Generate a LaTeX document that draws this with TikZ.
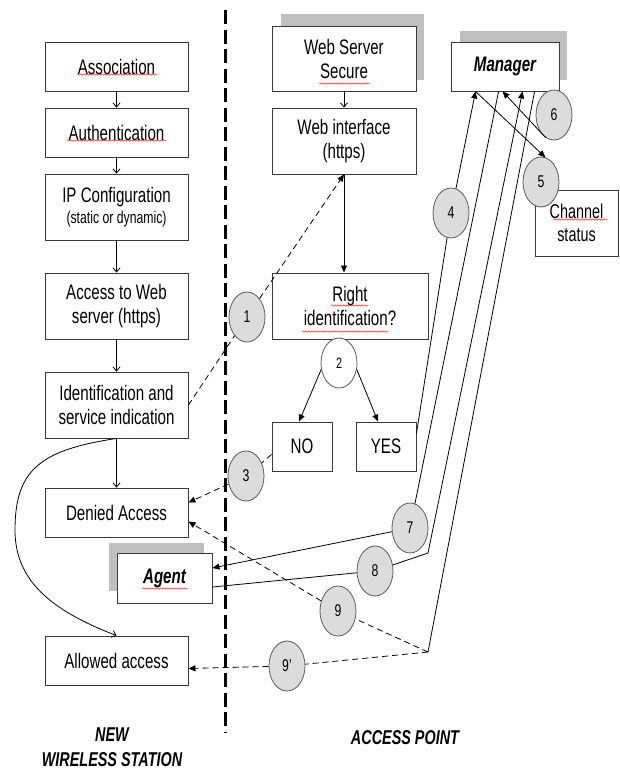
\documentclass[tikz,border=0pt]{standalone}
\usepackage{fontspec}
\setmainfont[FakeStretch=0.72]{Liberation Sans}
\usetikzlibrary{shapes.geometric,arrows.meta,calc,decorations.pathmorphing}
\definecolor{boxc}{HTML}{3A3A3A}
\definecolor{circf}{HTML}{DCDCDC}
\definecolor{circc}{HTML}{5A5A5A}
\definecolor{shadc}{HTML}{BFBFBF}
\begin{document}
\begin{tikzpicture}[x=1pt,y=-1pt,
  box/.style={draw=boxc, line width=0.9pt, fill=white, inner sep=0pt, align=center,
              font=\fontsize{21}{24}\selectfont},
  num/.style={ellipse, draw=circc, line width=0.8pt, fill=circf, minimum width=36pt,
              minimum height=50pt, inner sep=0pt, font=\fontsize{17}{17}\selectfont},
  lab/.style={align=center, inner sep=0pt, font=\fontsize{20}{25}\selectfont\bfseries\itshape},
  arr/.style={line width=0.8pt, -{Triangle[length=7pt,width=6pt]}},
  barb/.style={line width=0.8pt, -{Straight Barb[length=4pt,width=7pt]}},
  plain/.style={line width=0.8pt},
  dsh/.style={dash pattern=on 6pt off 4pt},
  squig/.style={draw=red!85, line width=0.5pt, decorate,
                decoration={snake, segment length=3pt, amplitude=0.7pt}}]
\useasboundingbox (0,0) rectangle (619,771);

% separator
\draw[line width=3pt, dash pattern=on 14pt off 5.5pt] (225,10) -- (225,733);

% shadows
\fill[shadc] (109,543) rectangle (204,591);
\fill[shadc] (281,14) rectangle (424,80);
\fill[shadc] (460,31) rectangle (567,80);

% wireless station boxes
\node[box, minimum width=143pt, minimum height=49pt] (assoc) at (116.5,66.5) {Association};
\node[box, minimum width=143pt, minimum height=49pt] (auth) at (116.5,132.5) {Authentication};
\node[box, minimum width=143pt, minimum height=66pt] (ip) at (116.5,207)
  {IP Configuration\\[-3pt]{\fontsize{17}{19}\selectfont (static or dynamic)}};
\node[box, minimum width=143pt, minimum height=66pt] (access) at (116.5,306) {Access to Web\\server (https)};
\node[box, minimum width=143pt, minimum height=66pt] (ident) at (116.5,405) {Identification and\\service indication};
\node[box, minimum width=143pt, minimum height=49pt] (denied) at (116.5,512.5) {Denied Access};
\node[box, minimum width=95pt, minimum height=50pt, font=\fontsize{21}{24}\selectfont\bfseries\itshape] (agent) at (164.5,578) {Agent};
\node[box, minimum width=143pt, minimum height=49pt] (allowed) at (116.5,660.5) {Allowed access};

% access point boxes
\node[box, minimum width=144pt, minimum height=65pt] (ws) at (344,58.5) {Web Server\\Secure};
\node[box, minimum width=144pt, minimum height=66pt] (webint) at (344,141) {Web interface\\(https)};
\node[box, minimum width=156pt, minimum height=66pt] (rightid) at (350,306) {Right\\identification?};
\node[box, minimum width=60pt, minimum height=49pt] (no) at (302,446.5) {NO};
\node[box, minimum width=60pt, minimum height=49pt] (yes) at (386,446.5) {YES};
\node[box, minimum width=108pt, minimum height=49pt, font=\fontsize{21}{24}\selectfont\bfseries\itshape] (manager) at (505,66.5) {Manager};
\node[box, minimum width=83pt, minimum height=66pt, font=\fontsize{20}{23}\selectfont] (channel) at (576.5,223) {Channel\\status};

% spelling marks
\draw[squig] (77,74.5) -- (157,74.5);
\draw[squig] (67,140.5) -- (166,140.5);
\draw[squig] (319,83.5) -- (370,83.5);
\draw[squig] (331,305.5) -- (368,305.5);
\draw[squig] (302,331.5) -- (388,331.5);
\draw[squig] (553,219.5) -- (607,219.5);
\draw[squig] (142,588.5) -- (188,588.5);

% numbered circles
\node[num] (c1) at (247,317) {1};
\node[num, fill=white, font=\fontsize{15}{15}\selectfont] (c2) at (339,363) {2};
\node[num] (c3) at (246,476) {3};
\node[num] (c4) at (451,213) {4};
\node[num] (c5) at (541,182) {5};
\node[num] (c6) at (554,115) {6};
\node[num] (c7) at (410,528) {7};
\node[num] (c8) at (375,571) {8};
\node[num] (c9) at (338,611) {9};
\node[num] (c9p) at (287,666) {9’};

% anchor points on the manager and bends
\coordinate (m4) at ($(manager.south west)+(25,0)$);
\coordinate (m7) at ($(manager.south west)+(48,0)$);
\coordinate (m6) at ($(manager.south west)+(52,0)$);
\coordinate (m8) at ($(manager.south west)+(72,0)$);
\coordinate (m9) at ($(manager.south west)+(84,0)$);
\coordinate (k8) at (428,553);
\coordinate (k9) at (428,652);

% left flow
\draw[barb] (assoc) -- (auth);
\draw[barb] (auth) -- (ip);
\draw[barb] (ip) -- (access);
\draw[barb] (access) -- (ident);
\draw[barb] (ident) -- (denied);
\draw[barb] (ident.south) .. controls (40,450) and (15,470) .. (15,530)
  .. controls (15,580) and (50,610) .. (allowed.north);

% access point flow
\draw[barb] (ws) -- (webint);
\draw[arr] (webint.south) -- (webint.south |- rightid.north);
\draw[arr] (c2.200) -- ($(no.north)+(-3,0)$);
\draw[arr] (c2.340) -- ($(yes.north)+(-8,0)$);

% messages
\draw[arr, dsh] (ident.east) -- (c1) -- (webint.south);
\draw[arr, dsh] ($(no.west)+(0,8)$) -- (c3) -- ($(denied.east)+(0,-10)$);
\draw[arr] ($(yes.east)+(0,-13)$) -- (c4) -- (m4);
\draw[arr] (m4) -- (c5.80);
\draw[arr] (c6.250) -- (m6);
\draw[arr] (m7) -- (c7) -- ($(agent.east)+(0,-10)$);
\draw[arr] ($(agent.east)+(0,9)$) -- (c8) -- (k8) -- (m8);
\draw[plain] (m9) -- (k9);
\draw[arr, dsh] (k9) -- (c9) -- ($(denied.east)+(0,9)$);
\draw[arr, dsh] (k9) -- (c9p) -- ($(allowed.east)+(0,8)$);

% side labels
\node[lab] (wsl) at (112,747) {NEW\\WIRELESS STATION};
\node[lab] (apl) at (405,738) {ACCESS POINT};
\end{tikzpicture}
\end{document}
